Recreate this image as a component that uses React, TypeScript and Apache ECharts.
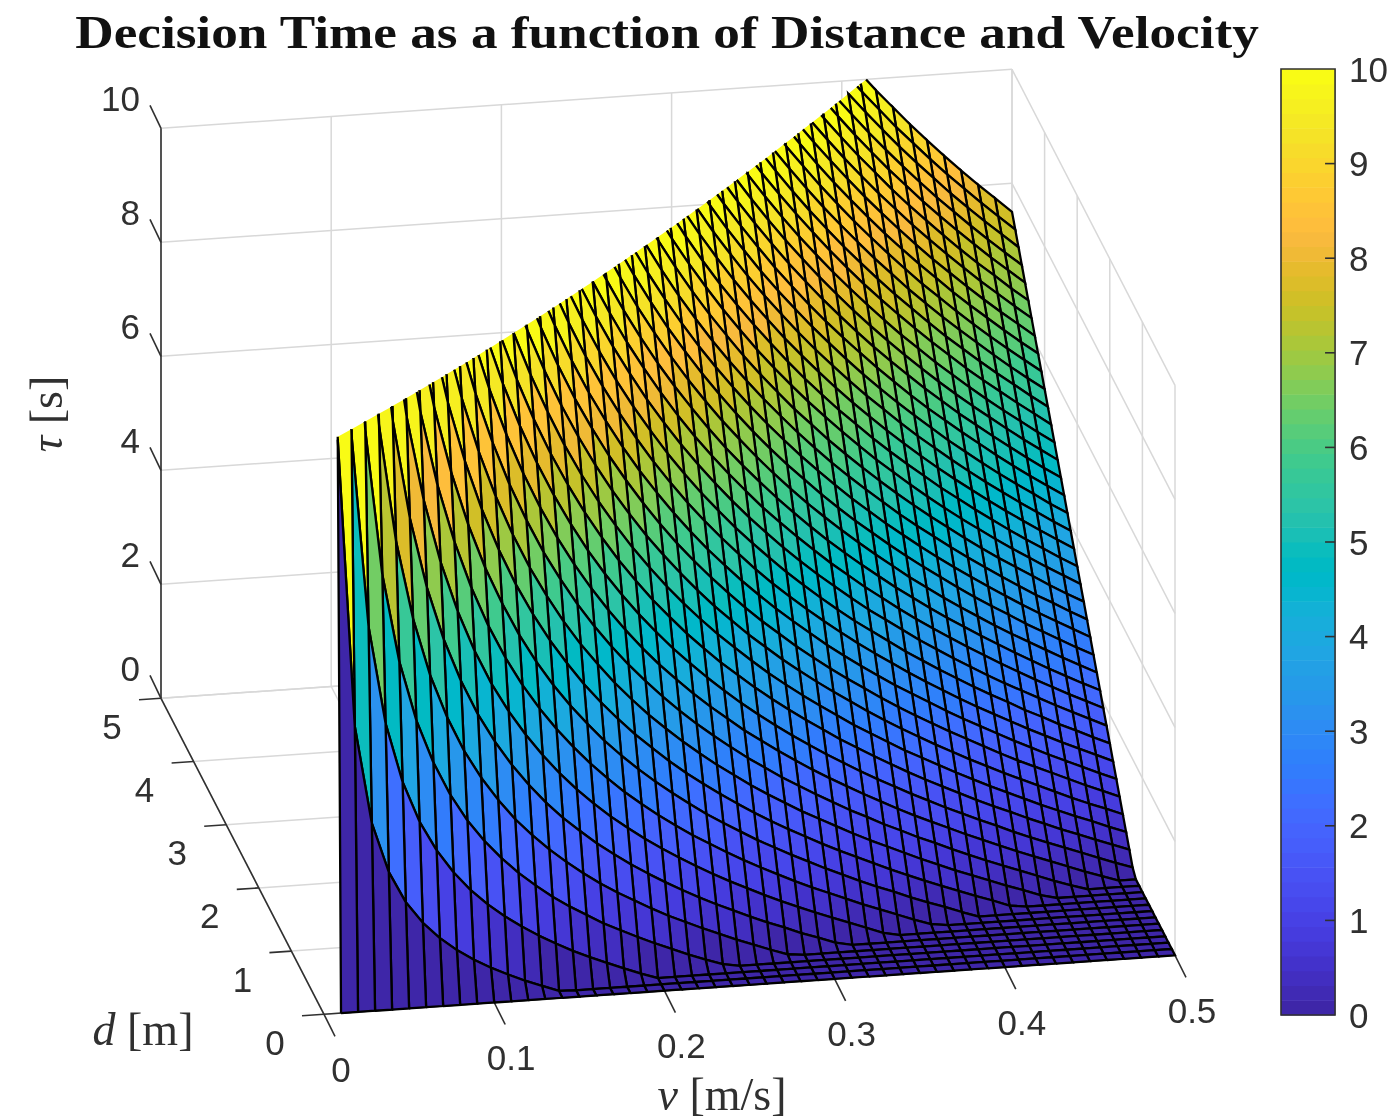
import React, { useEffect, useRef } from "react";
import * as echarts from "echarts";

const titleText = "Decision Time as a function of Distance and Velocity";
const velocities = [0.01,0.02,0.03,0.04,0.05,0.06,0.07,0.08,0.09,0.1,0.11,0.12,0.13,0.14,0.15,0.16,0.17,0.18,0.19,0.2,0.21,0.22,0.23,0.24,0.25,0.26,0.27,0.28,0.29,0.3,0.31,0.32,0.33,0.34,0.35,0.36,0.37,0.38,0.39,0.4,0.41,0.42,0.43,0.44,0.45,0.46,0.47,0.48,0.49,0.5];
const distances = [0,0.1,0.2,0.3,0.4,0.5,0.6,0.7,0.8,0.9,1,1.1,1.2,1.3,1.4,1.5,1.6,1.7,1.8,1.9,2,2.1,2.2,2.3,2.4,2.5,2.6,2.7,2.8,2.9,3,3.1,3.2,3.3,3.4,3.5,3.6,3.7,3.8,3.9,4,4.1,4.2,4.3,4.4,4.5,4.6,4.7,4.8,4.9,5];
const vTicks = [0, 0.1, 0.2, 0.3, 0.4, 0.5];
const dTicks = [0, 1, 2, 3, 4, 5];
const tauTicks = [0, 2, 4, 6, 8, 10];
const colorbarTicks = [1, 2, 3, 4, 5, 6, 7, 8, 9];

// tau [s] per velocity, listed by rising distance; values past the z limit of 10 are off the plot and left out.
const tauColumns: number[][] = [
[0,9.95,19.95,29.95],
[0,4.9,9.9,14.9,19.9],
[0,3.18,6.52,9.85,13.18,16.52],
[0,2.3,4.8,7.3,9.8,12.3,14.8],
[0,1.75,3.75,5.75,7.75,9.75,11.75,13.75],
[0,1.37,3.03,4.7,6.37,8.03,9.7,11.37,13.03],
[0,1.08,2.51,3.94,5.36,6.79,8.22,9.65,11.08,12.51],
[0,.85,2.1,3.35,4.6,5.85,7.1,8.35,9.6,10.85,12.1],
[0,.66,1.77,2.88,3.99,5.11,6.22,7.33,8.44,9.55,10.66,11.77],
[0,.5,1.5,2.5,3.5,4.5,5.5,6.5,7.5,8.5,9.5,10.5,11.5],
[0,.36,1.27,2.18,3.09,4,4.9,5.81,6.72,7.63,8.54,9.45,10.36,11.27],
[0,.23,1.07,1.9,2.73,3.57,4.4,5.23,6.07,6.9,7.73,8.57,9.4,10.23,11.07],
[0,.12,.89,1.66,2.43,3.2,3.97,4.73,5.5,6.27,7.04,7.81,8.58,9.35,10.12,10.89],
[0,.01,.73,1.44,2.16,2.87,3.59,4.3,5.01,5.73,6.44,7.16,7.87,8.59,9.3,10.01,10.73,11.44],
[0,0,.58,1.25,1.92,2.58,3.25,3.92,4.58,5.25,5.92,6.58,7.25,7.92,8.58,9.25,9.92,10.58,11.25],
[0,0,.45,1.08,1.7,2.33,2.95,3.58,4.2,4.83,5.45,6.08,6.7,7.33,7.95,8.58,9.2,9.83,10.45,11.08],
[0,0,.33,.91,1.5,2.09,2.68,3.27,3.86,4.44,5.03,5.62,6.21,6.8,7.39,7.97,8.56,9.15,9.74,10.33,10.91],
[0,0,.21,.77,1.32,1.88,2.43,2.99,3.54,4.1,4.66,5.21,5.77,6.32,6.88,7.43,7.99,8.54,9.1,9.66,10.21,10.77],
[0,0,.1,.63,1.16,1.68,2.21,2.73,3.26,3.79,4.31,4.84,5.37,5.89,6.42,6.94,7.47,8,8.52,9.05,9.58,10.1,10.63],
[0,0,0,.5,1,1.5,2,2.5,3,3.5,4,4.5,5,5.5,6,6.5,7,7.5,8,8.5,9,9.5,10,10.5,11],
[0,0,0,.38,.85,1.33,1.81,2.28,2.76,3.24,3.71,4.19,4.66,5.14,5.62,6.09,6.57,7.05,7.52,8,8.47,8.95,9.43,9.9,10.38,10.85],
[0,0,0,.26,.72,1.17,1.63,2.08,2.54,2.99,3.45,3.9,4.35,4.81,5.26,5.72,6.17,6.63,7.08,7.54,7.99,8.45,8.9,9.35,9.81,10.26,10.72],
[0,0,0,.15,.59,1.02,1.46,1.89,2.33,2.76,3.2,3.63,4.07,4.5,4.94,5.37,5.81,6.24,6.68,7.11,7.55,7.98,8.42,8.85,9.28,9.72,10.15,10.59],
[0,0,0,.05,.47,.88,1.3,1.72,2.13,2.55,2.97,3.38,3.8,4.22,4.63,5.05,5.47,5.88,6.3,6.72,7.13,7.55,7.97,8.38,8.8,9.22,9.63,10.05,10.47,10.88],
[0,0,0,0,.35,.75,1.15,1.55,1.95,2.35,2.75,3.15,3.55,3.95,4.35,4.75,5.15,5.55,5.95,6.35,6.75,7.15,7.55,7.95,8.35,8.75,9.15,9.55,9.95,10.35,10.75],
[0,0,0,0,.24,.62,1.01,1.39,1.78,2.16,2.55,2.93,3.32,3.7,4.08,4.47,4.85,5.24,5.62,6.01,6.39,6.78,7.16,7.55,7.93,8.32,8.7,9.08,9.47,9.85,10.24,10.62],
[0,0,0,0,.13,.5,.87,1.24,1.61,1.98,2.35,2.72,3.09,3.46,3.84,4.21,4.58,4.95,5.32,5.69,6.06,6.43,6.8,7.17,7.54,7.91,8.28,8.65,9.02,9.39,9.76,10.13,10.5],
[0,0,0,0,.03,.39,.74,1.1,1.46,1.81,2.17,2.53,2.89,3.24,3.6,3.96,4.31,4.67,5.03,5.39,5.74,6.1,6.46,6.81,7.17,7.53,7.89,8.24,8.6,8.96,9.31,9.67,10.03,10.39,10.74],
[0,0,0,0,0,.27,.62,.96,1.31,1.65,2,2.34,2.69,3.03,3.38,3.72,4.07,4.41,4.76,5.1,5.45,5.79,6.14,6.48,6.83,7.17,7.52,7.86,8.21,8.55,8.89,9.24,9.58,9.93,10.27,10.62],
[0,0,0,0,0,.17,.5,.83,1.17,1.5,1.83,2.17,2.5,2.83,3.17,3.5,3.83,4.17,4.5,4.83,5.17,5.5,5.83,6.17,6.5,6.83,7.17,7.5,7.83,8.17,8.5,8.83,9.17,9.5,9.83,10.17,10.5],
[0,0,0,0,0,.06,.39,.71,1.03,1.35,1.68,2,2.32,2.64,2.97,3.29,3.61,3.93,4.26,4.58,4.9,5.22,5.55,5.87,6.19,6.51,6.84,7.16,7.48,7.8,8.13,8.45,8.77,9.1,9.42,9.74,10.06,10.39,10.71],
[0,0,0,0,0,0,.28,.59,.9,1.21,1.53,1.84,2.15,2.46,2.78,3.09,3.4,3.71,4.03,4.34,4.65,4.96,5.28,5.59,5.9,6.21,6.53,6.84,7.15,7.46,7.78,8.09,8.4,8.71,9.03,9.34,9.65,9.96,10.28,10.59],
[0,0,0,0,0,0,.17,.47,.77,1.08,1.38,1.68,1.99,2.29,2.59,2.9,3.2,3.5,3.8,4.11,4.41,4.71,5.02,5.32,5.62,5.93,6.23,6.53,6.83,7.14,7.44,7.74,8.05,8.35,8.65,8.96,9.26,9.56,9.86,10.17,10.47],
[0,0,0,0,0,0,.06,.36,.65,.95,1.24,1.54,1.83,2.12,2.42,2.71,3.01,3.3,3.59,3.89,4.18,4.48,4.77,5.06,5.36,5.65,5.95,6.24,6.54,6.83,7.12,7.42,7.71,8.01,8.3,8.59,8.89,9.18,9.48,9.77,10.06,10.36,10.65],
[0,0,0,0,0,0,0,.25,.54,.82,1.11,1.39,1.68,1.96,2.25,2.54,2.82,3.11,3.39,3.68,3.96,4.25,4.54,4.82,5.11,5.39,5.68,5.96,6.25,6.54,6.82,7.11,7.39,7.68,7.96,8.25,8.54,8.82,9.11,9.39,9.68,9.96,10.25,10.54],
[0,0,0,0,0,0,0,.14,.42,.7,.98,1.26,1.53,1.81,2.09,2.37,2.64,2.92,3.2,3.48,3.76,4.03,4.31,4.59,4.87,5.14,5.42,5.7,5.98,6.26,6.53,6.81,7.09,7.37,7.64,7.92,8.2,8.48,8.76,9.03,9.31,9.59,9.87,10.14,10.42],
[0,0,0,0,0,0,0,.04,.31,.58,.85,1.12,1.39,1.66,1.93,2.2,2.47,2.74,3.01,3.29,3.56,3.83,4.1,4.37,4.64,4.91,5.18,5.45,5.72,5.99,6.26,6.53,6.8,7.07,7.34,7.61,7.88,8.15,8.42,8.69,8.96,9.23,9.5,9.77,10.04,10.31,10.58],
[0,0,0,0,0,0,0,0,.21,.47,.73,1,1.26,1.52,1.78,2.05,2.31,2.57,2.84,3.1,3.36,3.63,3.89,4.15,4.42,4.68,4.94,5.21,5.47,5.73,5.99,6.26,6.52,6.78,7.05,7.31,7.57,7.84,8.1,8.36,8.63,8.89,9.15,9.42,9.68,9.94,10.21,10.47],
[0,0,0,0,0,0,0,0,.1,.36,.61,.87,1.13,1.38,1.64,1.9,2.15,2.41,2.67,2.92,3.18,3.43,3.69,3.95,4.2,4.46,4.72,4.97,5.23,5.49,5.74,6,6.26,6.51,6.77,7.02,7.28,7.54,7.79,8.05,8.31,8.56,8.82,9.08,9.33,9.59,9.85,10.1,10.36],
[0,0,0,0,0,0,0,0,0,.25,.5,.75,1,1.25,1.5,1.75,2,2.25,2.5,2.75,3,3.25,3.5,3.75,4,4.25,4.5,4.75,5,5.25,5.5,5.75,6,6.25,6.5,6.75,7,7.25,7.5,7.75,8,8.25,8.5,8.75,9,9.25,9.5,9.75,10,10.25,10.5],
[0,0,0,0,0,0,0,0,0,.15,.39,.63,.88,1.12,1.36,1.61,1.85,2.1,2.34,2.58,2.83,3.07,3.32,3.56,3.8,4.05,4.29,4.54,4.78,5.02,5.27,5.51,5.75,6,6.24,6.49,6.73,6.97,7.22,7.46,7.71,7.95,8.19,8.44,8.68,8.93,9.17,9.41,9.66,9.9,10.15],
[0,0,0,0,0,0,0,0,0,.04,.28,.52,.76,1,1.23,1.47,1.71,1.95,2.19,2.42,2.66,2.9,3.14,3.38,3.61,3.85,4.09,4.33,4.57,4.8,5.04,5.28,5.52,5.76,5.99,6.23,6.47,6.71,6.95,7.19,7.42,7.66,7.9,8.14,8.38,8.61,8.85,9.09,9.33,9.57,9.8],
[0,0,0,0,0,0,0,0,0,0,.18,.41,.64,.87,1.11,1.34,1.57,1.8,2.04,2.27,2.5,2.73,2.97,3.2,3.43,3.66,3.9,4.13,4.36,4.59,4.83,5.06,5.29,5.52,5.76,5.99,6.22,6.45,6.69,6.92,7.15,7.38,7.62,7.85,8.08,8.31,8.55,8.78,9.01,9.24,9.48],
[0,0,0,0,0,0,0,0,0,0,.07,.3,.53,.75,.98,1.21,1.44,1.66,1.89,2.12,2.35,2.57,2.8,3.03,3.25,3.48,3.71,3.94,4.16,4.39,4.62,4.85,5.07,5.3,5.53,5.75,5.98,6.21,6.44,6.66,6.89,7.12,7.35,7.57,7.8,8.03,8.25,8.48,8.71,8.94,9.16],
[0,0,0,0,0,0,0,0,0,0,0,.19,.42,.64,.86,1.08,1.31,1.53,1.75,1.97,2.19,2.42,2.64,2.86,3.08,3.31,3.53,3.75,3.97,4.19,4.42,4.64,4.86,5.08,5.31,5.53,5.75,5.97,6.19,6.42,6.64,6.86,7.08,7.31,7.53,7.75,7.97,8.19,8.42,8.64,8.86],
[0,0,0,0,0,0,0,0,0,0,0,.09,.31,.53,.74,.96,1.18,1.4,1.61,1.83,2.05,2.27,2.48,2.7,2.92,3.13,3.35,3.57,3.79,4,4.22,4.44,4.66,4.87,5.09,5.31,5.53,5.74,5.96,6.18,6.4,6.61,6.83,7.05,7.27,7.48,7.7,7.92,8.13,8.35,8.57],
[0,0,0,0,0,0,0,0,0,0,0,0,.2,.42,.63,.84,1.05,1.27,1.48,1.69,1.9,2.12,2.33,2.54,2.76,2.97,3.18,3.39,3.61,3.82,4.03,4.25,4.46,4.67,4.88,5.1,5.31,5.52,5.74,5.95,6.16,6.37,6.59,6.8,7.01,7.22,7.44,7.65,7.86,8.08,8.29],
[0,0,0,0,0,0,0,0,0,0,0,0,.1,.31,.52,.73,.93,1.14,1.35,1.56,1.77,1.98,2.18,2.39,2.6,2.81,3.02,3.23,3.43,3.64,3.85,4.06,4.27,4.48,4.68,4.89,5.1,5.31,5.52,5.73,5.93,6.14,6.35,6.56,6.77,6.98,7.18,7.39,7.6,7.81,8.02],
[0,0,0,0,0,0,0,0,0,0,0,0,0,.2,.41,.61,.82,1.02,1.22,1.43,1.63,1.84,2.04,2.24,2.45,2.65,2.86,3.06,3.26,3.47,3.67,3.88,4.08,4.28,4.49,4.69,4.9,5.1,5.31,5.51,5.71,5.92,6.12,6.33,6.53,6.73,6.94,7.14,7.35,7.55,7.76],
[0,0,0,0,0,0,0,0,0,0,0,0,0,.1,.3,.5,.7,.9,1.1,1.3,1.5,1.7,1.9,2.1,2.3,2.5,2.7,2.9,3.1,3.3,3.5,3.7,3.9,4.1,4.3,4.5,4.7,4.9,5.1,5.3,5.5,5.7,5.9,6.1,6.3,6.5,6.7,6.9,7.1,7.3,7.5],
];

const parula = [[.2422,.1504,.6603],[.2504,.165,.7076],[.2578,.1818,.7511],[.2647,.1978,.7952],[.2706,.2147,.8364],[.2751,.2342,.871],[.2783,.2559,.8991],[.2803,.2782,.9221],[.2813,.3006,.9414],[.281,.3228,.9579],[.2795,.3447,.9717],[.276,.3667,.9829],[.2699,.3892,.9906],[.2602,.4123,.9952],[.244,.4358,.9988],[.2206,.4603,.9973],[.1963,.4847,.9892],[.1834,.5074,.9798],[.1786,.5289,.9682],[.1764,.5499,.952],[.1687,.5703,.9359],[.154,.5902,.9218],[.146,.6091,.9079],[.138,.6276,.8973],[.1248,.6459,.8883],[.1113,.6635,.8763],[.0952,.6798,.8598],[.0689,.6948,.8394],[.0297,.7082,.8163],[.0036,.7203,.7917],[.0067,.7312,.766],[.0433,.7411,.7394],[.0964,.75,.712],[.1408,.7584,.6842],[.1717,.767,.6554],[.1938,.7758,.6251],[.2161,.7843,.5923],[.247,.7918,.5567],[.2906,.7973,.5188],[.3406,.8008,.4789],[.3909,.8029,.4354],[.4456,.8024,.3909],[.5044,.7993,.348],[.5616,.7942,.3045],[.6174,.7876,.2612],[.672,.7793,.2227],[.7242,.7698,.191],[.7738,.7598,.1646],[.8203,.7498,.1535],[.8634,.7406,.1596],[.9035,.733,.1774],[.9393,.7288,.21],[.9728,.7298,.2394],[.9956,.7434,.2371],[.997,.7659,.2199],[.9952,.7893,.2028],[.9892,.8136,.1885],[.9786,.8386,.1766],[.9676,.8639,.1643],[.961,.889,.1537],[.9597,.9135,.1423],[.9628,.9373,.1265],[.9691,.9606,.1064],[.9769,.9839,.0805]];

const TAU_MAX = 10;
const INK = "#303030";
const WALL = "#d8d8d8";
const SANS = "'Liberation Sans', Arial, sans-serif";
const SERIF = "'Liberation Serif', 'Times New Roman', serif";

const bandColor = (i: number) => {
  const c = parula[i].map((x) => Math.round(x * 255));
  return `rgb(${c[0]},${c[1]},${c[2]})`;
};
const tauColor = (t: number) =>
  bandColor(Math.max(0, Math.min(parula.length - 1, Math.floor((t / TAU_MAX) * parula.length))));

// Orthographic view of the 3-D box, into the pixel-scaled hidden axes.
const project = (v: number, d: number, t: number) => [
  324 + 1702 * v - 32.6 * d,
  1014.3 - 118 * v - 63.2 * d - 57 * t,
];

type P3 = [number, number, number];
const cut = (a: P3, b: P3): P3 => {
  const s = (TAU_MAX - a[2]) / (b[2] - a[2]);
  return [a[0] + s * (b[0] - a[0]), a[1] + s * (b[1] - a[1]), TAU_MAX];
};

// Clip one cell at the z limit: gives the filled area and the outline without the cut edge.
const clipCell = (ring: P3[]) => {
  const fill: P3[] = [];
  let start = -1;
  ring.forEach((a, i) => {
    const b = ring[(i + 1) % ring.length];
    const ain = a[2] <= TAU_MAX;
    const bin = b[2] <= TAU_MAX;
    if (ain) fill.push(a);
    if (ain !== bin) fill.push(cut(a, b));
    if (!ain && bin) start = i;
  });
  if (start < 0) return { fill, edge: [...ring, ring[0]] };
  const n = ring.length;
  const edge: P3[] = [cut(ring[start], ring[(start + 1) % n])];
  for (let o = 1; o <= n; o++) {
    const a = ring[(start + o) % n];
    const b = ring[(start + o + 1) % n];
    if (a[2] > TAU_MAX) break;
    edge.push(a);
    if (b[2] > TAU_MAX) {
      edge.push(cut(a, b));
      break;
    }
  }
  return { fill, edge };
};

// Back-to-front cell order.
const cells: number[][] = [];
for (let k = distances.length - 2; k >= 0; k--) {
  for (let j = velocities.length - 2; j >= 0; j--) {
    const low = tauColumns[j + 1][k];
    if (low !== undefined && low < TAU_MAX) cells.push([j, k]);
  }
}

const renderCell = (params: any, api: any) => {
  const [j, k] = cells[params.dataIndex];
  const node = (a: number, b: number): P3 => [velocities[a], distances[b], tauColumns[a][b]];
  const ring = [node(j, k), node(j + 1, k), node(j + 1, k + 1), node(j, k + 1)];
  const { fill, edge } = clipCell(ring);
  const px = (p: P3) => api.coord(project(p[0], p[1], p[2]));
  return {
    type: "group",
    silent: true,
    children: [
      { type: "polygon", shape: { points: fill.map(px) }, style: { fill: tauColor(tauColumns[j][k]) } },
      { type: "polyline", shape: { points: edge.map(px) }, style: { fill: null, stroke: "#000", lineWidth: 2.3 } },
    ],
  };
};

const renderFrame = (_: any, api: any) => {
  const at = (v: number, d: number, t: number) => api.coord(project(v, d, t));
  const children: any[] = [];
  const seg = (a: number[], b: number[], stroke: string, lineWidth: number) =>
    children.push({ type: "polyline", shape: { points: [a, b] }, style: { fill: null, stroke, lineWidth } });
  const label = (text: string, p: number[], dx: number, dy: number, align: string) =>
    children.push({
      type: "text",
      style: { text, x: p[0] + dx, y: p[1] + dy, fill: INK, font: `35px ${SANS}`, align, verticalAlign: "middle" },
    });
  const vEnd = vTicks[vTicks.length - 1];
  const dEnd = dTicks[dTicks.length - 1];
  const tEnd = tauTicks[tauTicks.length - 1];
  vTicks.forEach((v) => {
    seg(at(v, 0, 0), at(v, dEnd, 0), WALL, 1.5);
    seg(at(v, dEnd, 0), at(v, dEnd, tEnd), WALL, 1.5);
  });
  dTicks.forEach((d) => {
    seg(at(0, d, 0), at(vEnd, d, 0), WALL, 1.5);
    seg(at(vEnd, d, 0), at(vEnd, d, tEnd), WALL, 1.5);
  });
  tauTicks.forEach((t) => {
    seg(at(0, dEnd, t), at(vEnd, dEnd, t), WALL, 1.5);
    seg(at(vEnd, dEnd, t), at(vEnd, 0, t), WALL, 1.5);
  });
  seg(at(0, 0, 0), at(vEnd, 0, 0), INK, 1.6);
  seg(at(0, 0, 0), at(0, dEnd, 0), INK, 1.6);
  seg(at(0, dEnd, 0), at(0, dEnd, tEnd), INK, 1.6);
  vTicks.forEach((v) => {
    const p = at(v, 0, 0);
    seg(p, [p[0] + 11, p[1] + 22], INK, 1.6);
    label(String(v), p, 17, 55, "center");
  });
  dTicks.forEach((d) => {
    const p = at(0, d, 0);
    seg(p, [p[0] - 22, p[1] + 1.5], INK, 1.6);
    label(String(d), p, -49, 28, "center");
  });
  tauTicks.forEach((t) => {
    const p = at(0, dEnd, t);
    seg(p, [p[0] - 11, p[1] - 23], INK, 1.6);
    label(String(t), p, -21, -30, "right");
  });
  const rich = {
    i: { font: `italic 46px ${SERIF}`, fill: INK },
    u: { font: `46px ${SERIF}`, fill: INK },
  };
  const font = `46px ${SERIF}`;
  children.push({
    type: "text",
    style: { text: "{i|d} {u|[m]}", font, x: 143, y: 1029, align: "center", verticalAlign: "middle", rich },
  });
  children.push({
    type: "text",
    style: { text: "{i|v} {u|[m/s]}", font, x: 722, y: 1094, align: "center", verticalAlign: "middle", rich },
  });
  children.push({
    type: "text",
    x: 46,
    y: 414,
    rotation: Math.PI / 2,
    style: { text: "{i|τ} {u|[s]}", font, x: 0, y: 0, align: "center", verticalAlign: "middle", rich },
  });
  return { type: "group", silent: true, children };
};

const renderBand = (params: any, api: any) => {
  const i = params.dataIndex;
  const a = api.coord([0, (i * TAU_MAX) / parula.length]);
  const b = api.coord([1, ((i + 1) * TAU_MAX) / parula.length]);
  return {
    type: "rect",
    silent: true,
    shape: { x: a[0], y: b[1], width: b[0] - a[0], height: a[1] - b[1] + 0.6 },
    style: { fill: bandColor(i) },
  };
};

const renderBarFrame = (_: any, api: any) => {
  const a = api.coord([0, 0]);
  const b = api.coord([1, TAU_MAX]);
  return {
    type: "group",
    silent: true,
    children: [
      {
        type: "rect",
        shape: { x: a[0], y: b[1], width: b[0] - a[0], height: a[1] - b[1] },
        style: { fill: null, stroke: INK, lineWidth: 1.6 },
      },
      ...colorbarTicks.map((t) => {
        const p = api.coord([1, t]);
        return {
          type: "polyline",
          shape: { points: [p, [p[0] - 10, p[1]]] },
          style: { fill: null, stroke: INK, lineWidth: 1.6 },
        };
      }),
    ],
  };
};

export default function App() {
  const ref = useRef<HTMLDivElement>(null);
  useEffect(() => {
    const chart = echarts.init(ref.current!, null, { renderer: "svg" });
    chart.setOption({
      animation: false,
      backgroundColor: "#fff",
      graphic: [
        {
          type: "text",
          x: 667,
          y: 33,
          scaleX: 1.157,
          silent: true,
          style: {
            text: titleText,
            x: 0,
            y: 0,
            fill: "#111",
            font: `bold 46px ${SERIF}`,
            align: "center",
            verticalAlign: "middle",
          },
        },
      ],
      grid: [
        { left: 0, top: 0, width: 1391, height: 1118 },
        { left: 1281, top: 69, width: 56, height: 946 },
      ],
      xAxis: [
        { type: "value", gridIndex: 0, min: 0, max: 1391, show: false },
        { type: "value", gridIndex: 1, min: 0, max: 1, show: false },
      ],
      yAxis: [
        { type: "value", gridIndex: 0, min: 0, max: 1118, inverse: true, show: false },
        {
          type: "value",
          gridIndex: 1,
          min: 0,
          max: TAU_MAX,
          interval: 1,
          position: "right",
          axisLine: { show: false },
          axisTick: { show: false },
          axisLabel: { color: INK, fontFamily: SANS, fontSize: 35, margin: 14 },
          splitLine: { show: false },
        },
      ],
      series: [
        { type: "custom", name: "frame", xAxisIndex: 0, yAxisIndex: 0, z: 1, clip: false, data: [[0, 0]], renderItem: renderFrame },
        { type: "custom", name: "tau", xAxisIndex: 0, yAxisIndex: 0, z: 2, clip: false, progressive: 0, data: cells, renderItem: renderCell },
        { type: "custom", name: "colorbar", xAxisIndex: 1, yAxisIndex: 1, z: 2, clip: false, progressive: 0, data: parula.map(() => [0, 0]), renderItem: renderBand },
        { type: "custom", name: "colorbar outline", xAxisIndex: 1, yAxisIndex: 1, z: 3, clip: false, data: [[0, 0]], renderItem: renderBarFrame },
      ],
    });
    return () => chart.dispose();
  }, []);
  return (
    <div
      ref={ref}
      style={{ position: "absolute", left: 0, top: 0, width: 1391, height: 1118, filter: "blur(0.5px)" }}
    />
  );
}
